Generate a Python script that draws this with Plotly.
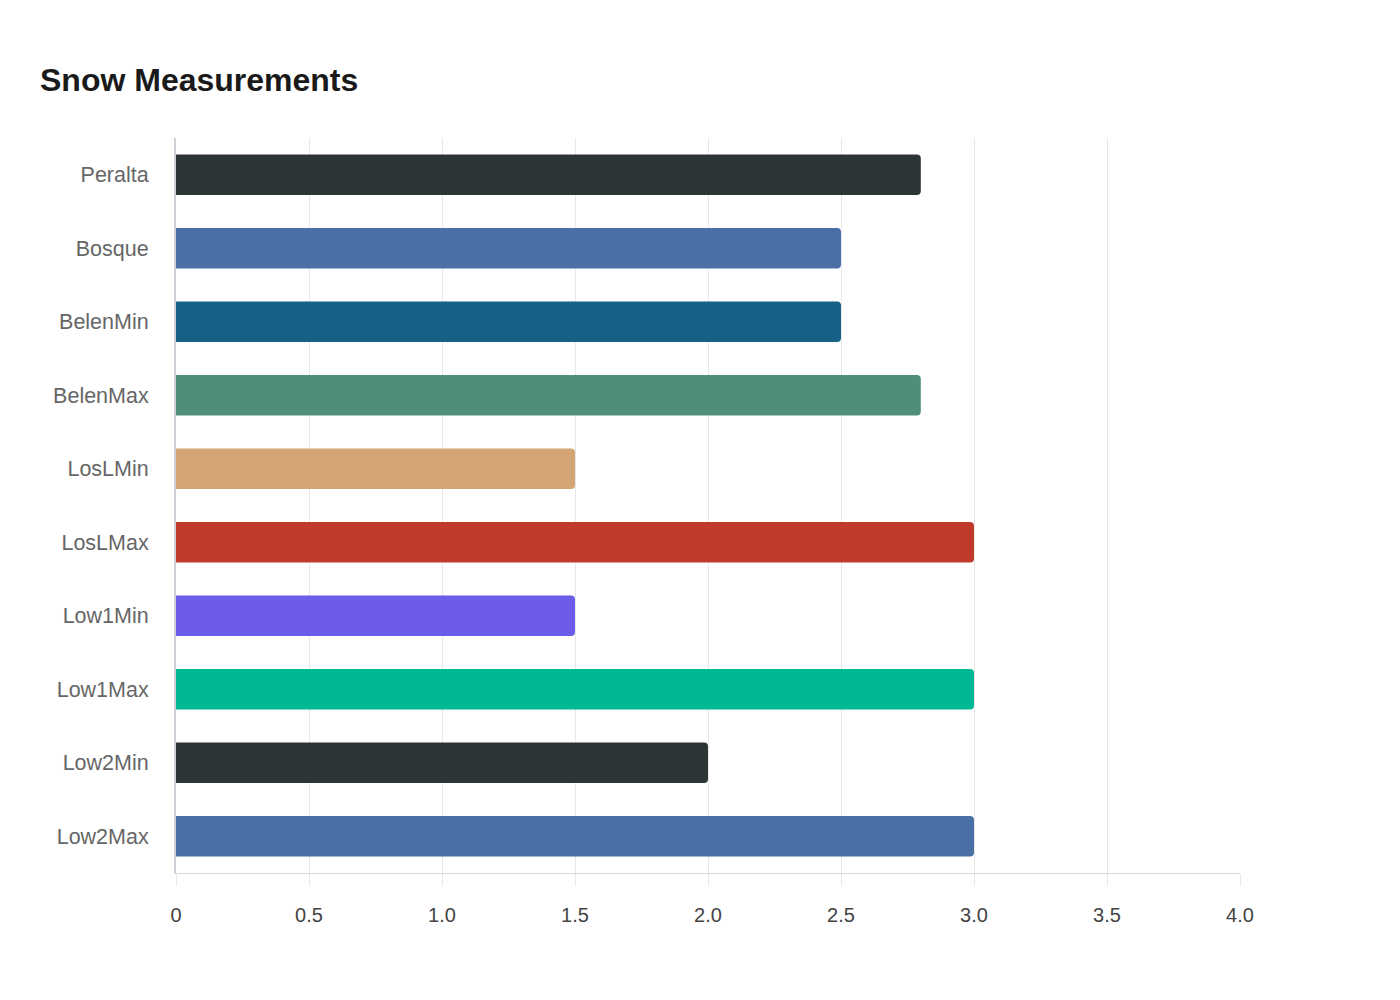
import plotly.graph_objects as go

# snow measurements per site
sites = ["Peralta", "Bosque", "BelenMin", "BelenMax", "LosLMin",
         "LosLMax", "Low1Min", "Low1Max", "Low2Min", "Low2Max"]
snow = [2.8, 2.5, 2.5, 2.8, 1.5, 3.0, 1.5, 3.0, 2.0, 3.0]
bar_colors = ["#2d3436", "#4a6fa5", "#176187", "#4f8f7a", "#d3a574",
              "#c0392b", "#6c5ce7", "#00b894", "#2d3436", "#4a6fa5"]
x_ticks = [0, 0.5, 1.0, 1.5, 2.0, 2.5, 3.0, 3.5, 4.0]
x_tick_text = ["0", "0.5", "1.0", "1.5", "2.0", "2.5", "3.0", "3.5", "4.0"]

fig = go.Figure(go.Bar(
    x=snow,
    y=sites,
    orientation="h",
    marker=dict(color=bar_colors, line=dict(width=0)),
    hoverinfo="x+y",
))

fig.update_layout(
    width=1400,
    height=1000,
    paper_bgcolor="white",
    plot_bgcolor="white",
    font=dict(family="Liberation Sans, Arial, sans-serif"),
    title=dict(
        text="<b>Snow Measurements</b>",
        x=32 / 1400, xref="container", xanchor="left",
        y=1 - 72 / 1000, yref="container", yanchor="middle",
        font=dict(size=32, color="#1a1a1a"),
    ),
    margin=dict(l=168, r=168, t=130, b=135),
    bargap=0.45,
    barcornerradius=4,
    showlegend=False,
)

fig.update_xaxes(
    range=[0, 4.0],
    tickvals=x_ticks,
    ticktext=x_tick_text,
    showgrid=True,
    gridcolor="#e8e8e8",
    gridwidth=1,
    zeroline=False,
    showline=True,
    linecolor="#d8d8d8",
    linewidth=1,
    ticks="outside",
    ticklen=12,
    tickcolor="#e8e8e8",
    ticklabelstandoff=12,
    tickfont=dict(size=20, color="#444444"),
    fixedrange=True,
)
fig.update_yaxes(
    autorange="reversed",
    showgrid=False,
    showline=True,
    linecolor="#d0d0d8",
    linewidth=2,
    ticks="",
    ticklabelstandoff=21,
    tickfont=dict(size=21.5, color="#666666"),
    fixedrange=True,
)

fig.write_html("out.html")
